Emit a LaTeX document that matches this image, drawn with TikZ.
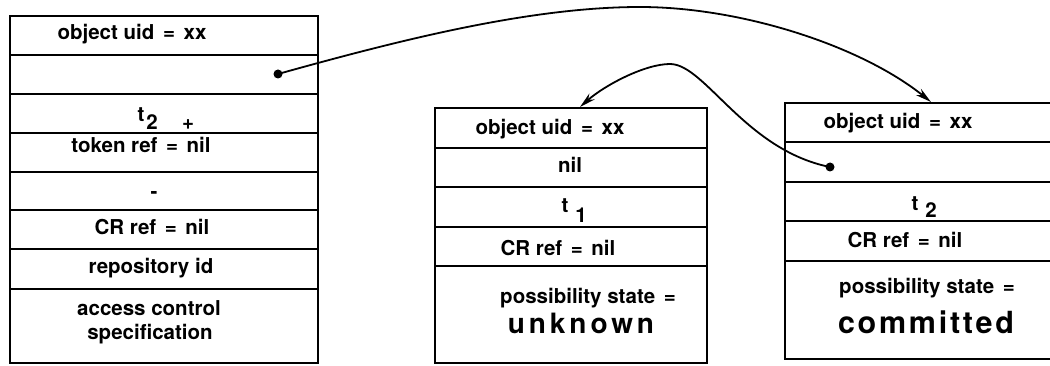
\documentclass[tikz,border=0pt]{standalone}
\usepackage{fontspec}
\setmainfont{TeX Gyre Heros}
\usetikzlibrary{arrows.meta}
\newcommand{\eqsp}{\hspace{0.42em}}
\tikzset{
  outer/.style={line width=2.4pt, line join=miter},
  rowline/.style={line width=1.6pt},
  lbl/.style={font=\bfseries\fontsize{20.5}{22}\selectfont, inner sep=0pt, anchor=base},
  bigA/.style={font=\bfseries\fontsize{28}{30}\selectfont\addfontfeature{LetterSpace=14}, inner sep=0pt, anchor=base},
  bigB/.style={font=\bfseries\fontsize{30.5}{32}\selectfont\addfontfeature{LetterSpace=9}, inner sep=0pt, anchor=base},
  link/.style={line width=1.8pt, -{Stealth[length=16pt,width=8pt]}},
  dotmark/.style={circle, fill=black, inner sep=0pt, minimum size=9pt}
}
\begin{document}
\begin{tikzpicture}[x=1pt,y=-1pt]
\useasboundingbox (0,0) rectangle (1050,366);
% ---- box 1 ----
\draw[outer] (10,16) rectangle (318,363);
\foreach \yy in {55,94,133,172,210,249,289} \draw[rowline] (10,\yy) -- (318,\yy);
\node[lbl] (a1) at (132,40) {object uid\eqsp=\eqsp xx};
\node[lbl] (a3t) at (141,122) {t};
\node[lbl] (a3s) at (152,130) {2};
\node[lbl] (a3p) at (188,130) {+};
\node[lbl] (a4) at (141,153) {token ref\eqsp=\eqsp nil};
\node[lbl] (a5) at (154,199) {-};
\node[lbl] (a6) at (152,235) {CR ref\eqsp=\eqsp nil};
\node[lbl] (a7) at (151,273) {repository id};
\node[lbl] (a8) at (149,315) {access control};
\node[lbl] (a9) at (150,339) {specification};
\node[dotmark] (d1) at (278,74) {};
% ---- box 2 ----
\draw[outer] (435,108) rectangle (707,363);
\foreach \yy in {148,187,227,266} \draw[rowline] (435,\yy) -- (707,\yy);
\node[lbl] (b1) at (550,135) {object uid\eqsp=\eqsp xx};
\node[lbl] (b2) at (570,173) {nil};
\node[lbl] (b3t) at (565,213) {t};
\node[lbl] (b3s) at (581,223) {1};
\node[lbl] (b4) at (558,255) {CR ref\eqsp=\eqsp nil};
\node[lbl] (b5) at (588,303) {possibility state\eqsp=};
\node[bigA] (b6) at (581,333) {unknown};
\coordinate (t2) at (580,107);
% ---- box 3 ----
\draw[outer] (1056,103) -- (785,103) -- (785,359) -- (1056,359);
\foreach \yy in {142,182,221,261} \draw[rowline] (785,\yy) -- (1056,\yy);
\node[lbl] (c1) at (898,129) {object uid\eqsp=\eqsp xx};
\node[lbl] (c3t) at (915,211) {t};
\node[lbl] (c3s) at (931,218) {2};
\node[lbl] (c4) at (905,248) {CR ref\eqsp=\eqsp nil};
\node[lbl] (c5) at (927,294) {possibility state\eqsp=};
\node[bigB] (c6) at (926,334) {committed};
\node[dotmark] (d3) at (830,167) {};
\coordinate (t3) at (931,102);
% ---- connectors ----
\draw[link] (d1.center) .. controls (400,40) and (530,7) .. (640,7)
  .. controls (740,7) and (860,45) .. (t3);
\draw[link] (d3.center) .. controls (745,150) and (705,64) .. (670,64)
  .. controls (645,64) and (605,85) .. (t2);
\end{tikzpicture}
\end{document}
